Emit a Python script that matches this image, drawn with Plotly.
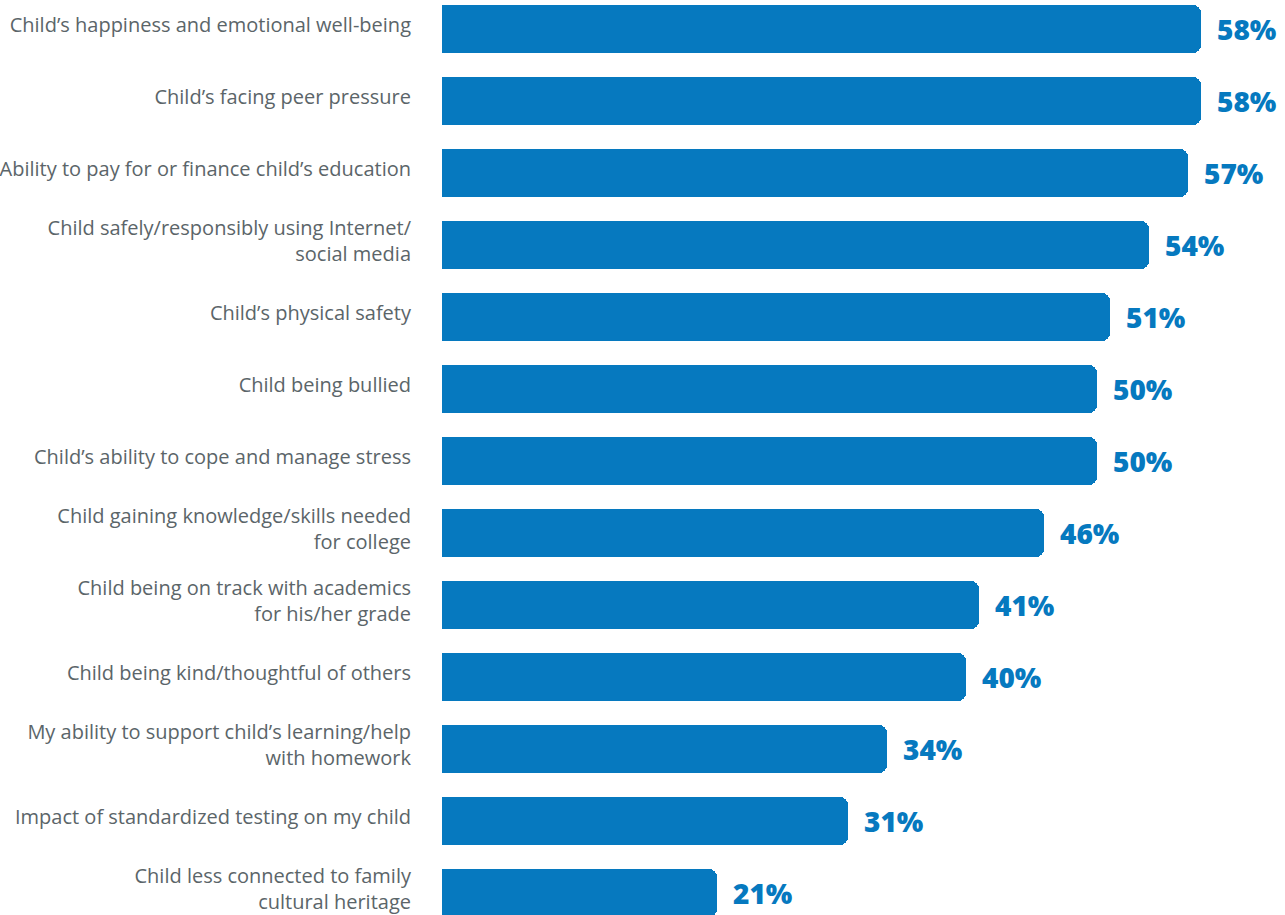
import plotly.graph_objects as go

categories = [
    "Child’s happiness and emotional well-being",
    "Child’s facing peer pressure",
    "Ability to pay for or finance child’s education",
    "Child safely/responsibly using Internet/<br>social media",
    "Child’s physical safety",
    "Child being bullied",
    "Child’s ability to cope and manage stress",
    "Child gaining knowledge/skills needed<br>for college",
    "Child being on track with academics<br>for his/her grade",
    "Child being kind/thoughtful of others",
    "My ability to support child’s learning/help<br>with homework",
    "Impact of standardized testing on my child",
    "Child less connected to family<br>cultural heritage",
]
values = [58, 58, 57, 54, 51, 50, 50, 46, 41, 40, 34, 31, 21]

BAR_COLOR = "#0679bf"
LABEL_COLOR = "#5b6569"

fig = go.Figure()
fig.add_trace(go.Bar(
    x=values,
    y=list(range(len(categories))),
    orientation="h",
    width=0.667,
    marker=dict(color=BAR_COLOR, line=dict(width=0), cornerradius=8),
    hoverinfo="skip",
))

for i, v in enumerate(values):
    fig.add_annotation(
        x=v, y=i, text=f"{v}%", showarrow=False,
        xanchor="left", yanchor="middle", xshift=14, yshift=0,
        font=dict(family="Open Sans, sans-serif", size=28, weight=800,
                  color=BAR_COLOR),
    )

fig.update_layout(
    width=1285, height=915,
    margin=dict(l=442, r=0, t=0, b=0, autoexpand=False),
    paper_bgcolor="white", plot_bgcolor="white",
    showlegend=False,
    bargap=0,
    xaxis=dict(range=[0, 64.4], visible=False, fixedrange=True,
               automargin=False),
    yaxis=dict(
        range=[12.306, -0.403],
        tickmode="array",
        tickvals=list(range(len(categories))),
        ticktext=categories,
        showgrid=False, zeroline=False, showline=False,
        ticks="", ticklabelstandoff=30, ticklabeloverflow="allow",
        ticklabelshift=4,
        automargin=False,
        tickfont=dict(family="Open Sans, sans-serif", size=20, color=LABEL_COLOR),
        fixedrange=True,
    ),
)

fig.write_html("out.html")
